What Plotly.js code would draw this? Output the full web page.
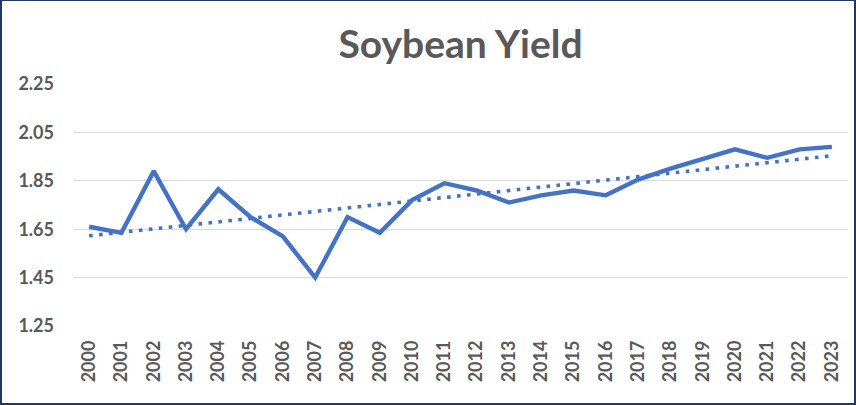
<!DOCTYPE html>
<html>
<head>
<meta charset="utf-8">
<script src="https://cdn.plot.ly/plotly-3.0.1.min.js"></script>
<style>
  html, body { margin: 0; padding: 0; background: #fff; }
  #chart { position: absolute; left: 0; top: 0; width: 856px; height: 405px; }
  #frame { position: absolute; left: 0; top: 0; width: 856px; height: 405px; box-sizing: border-box;
           border-style: solid; border-color: #1F3864; border-width: 1px 2px 2px 2px; pointer-events: none; }
</style>
</head>
<body>
<div id="chart"></div><div id="frame"></div>
<script>
const years = ["2000","2001","2002","2003","2004","2005","2006","2007","2008","2009","2010","2011",
               "2012","2013","2014","2015","2016","2017","2018","2019","2020","2021","2022","2023"];
const yieldValues = [1.66, 1.635, 1.89, 1.65, 1.815, 1.70, 1.62, 1.45, 1.70, 1.635, 1.77, 1.84,
                     1.81, 1.76, 1.79, 1.81, 1.79, 1.855, 1.90, 1.94, 1.98, 1.945, 1.98, 1.99];
const yTicks = [1.25, 1.45, 1.65, 1.85, 2.05, 2.25];

// Linear trendline (least squares) computed from the data, as Excel does
const n = yieldValues.length;
const idx = yieldValues.map((_, i) => i);
const mx = idx.reduce((a, b) => a + b, 0) / n;
const my = yieldValues.reduce((a, b) => a + b, 0) / n;
let sxy = 0, sxx = 0;
for (let i = 0; i < n; i++) { sxy += (i - mx) * (yieldValues[i] - my); sxx += (i - mx) * (i - mx); }
const slope = sxy / sxx, intercept = my - slope * mx;
const trend = idx.map(i => intercept + slope * i);

const font = "Lato, 'Open Sans', 'Liberation Sans', sans-serif";
const grey = "#595959";

Plotly.newPlot("chart", [
  { x: years, y: trend, type: "scatter", mode: "lines",
    line: { color: "#4472C4", width: 3.6, dash: "3.6px,6.4px" }, hoverinfo: "skip" },
  { x: years, y: yieldValues, type: "scatter", mode: "lines",
    line: { color: "#4472C4", width: 4.4 } }
], {
  width: 856, height: 405,
  margin: { l: 73, r: 8, t: 84, b: 79 },
  paper_bgcolor: "#fff", plot_bgcolor: "#fff",
  showlegend: false,
  title: { text: "<b>Soybean Yield</b>", x: 0.5, xref: "paper", xanchor: "center",
           y: 0.89, yref: "container", yanchor: "middle",
           font: { family: font, size: 39, color: grey } },
  xaxis: { type: "category", range: [-0.5, 23.5], tickangle: -90, showgrid: false,
           showline: false, zeroline: false, ticks: "", ticklabelstandoff: 10,
           tickfont: { family: font, size: 18, color: grey, weight: "bold" } },
  yaxis: { range: [1.25, 2.25], tickvals: yTicks, ticktext: yTicks.map(v => v.toFixed(2)),
           showgrid: true, gridcolor: "#D9D9D9", gridwidth: 1.3, zeroline: false,
           showline: false, ticks: "", ticklabelstandoff: 18,
           tickfont: { family: font, size: 18, color: grey, weight: "bold" } }
}, { staticPlot: true });
</script>
</body>
</html>
